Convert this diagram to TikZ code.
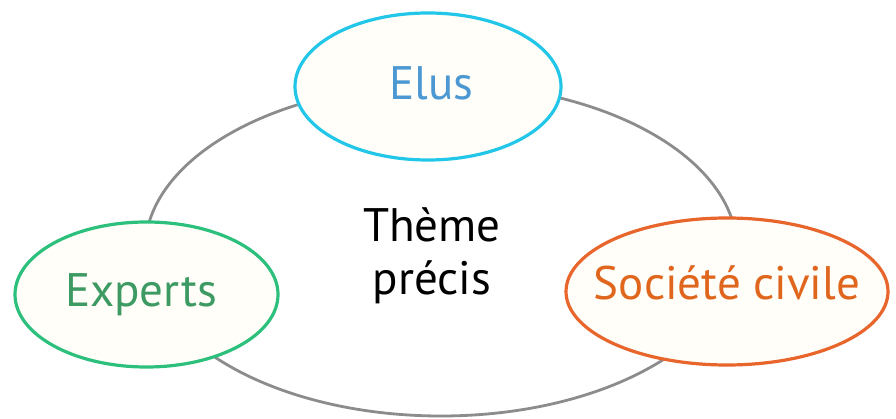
\documentclass[tikz,border=0pt]{standalone}
\usepackage{fontspec}
\setmainfont{PT Sans}
\usetikzlibrary{shapes.geometric}
\definecolor{ringgrey}{HTML}{8C8C8C}
\definecolor{bubblefill}{HTML}{FFFEF8}
\definecolor{eluline}{HTML}{22C6E8}
\definecolor{elutext}{HTML}{4C98D2}
\definecolor{expline}{HTML}{2CC07C}
\definecolor{exptext}{HTML}{3C9A62}
\definecolor{socline}{HTML}{E8652C}
\definecolor{soctext}{HTML}{E0661E}
\tikzset{
  bubble/.style={ellipse, draw, line width=3.2pt, fill=bubblefill, inner sep=0pt},
  ring/.style={ellipse, draw=ringgrey, line width=2.8pt, inner sep=0pt},
  lbl/.style={anchor=base, inner sep=0pt, font=\fontsize{47}{53}\selectfont},
}
\begin{document}
\begin{tikzpicture}[x=1pt,y=-1pt]
\useasboundingbox (0,0) rectangle (896,419);
\node[ring, minimum width=592pt, minimum height=332pt] (ringnode) at (441,250) {};
\node[bubble, draw=eluline, minimum width=266pt, minimum height=147pt] (elus) at (428,86.5) {};
\node[bubble, draw=expline, minimum width=263pt, minimum height=145pt] (experts) at (146.5,294.5) {};
\node[bubble, draw=socline, minimum width=322pt, minimum height=147pt] (societe) at (727,291.5) {};
\node[lbl, text=elutext] (elusT) at (431.5,100) {Elus};
\node[lbl, text=exptext] (expertsT) at (141,307) {Experts};
\node[lbl, text=soctext] (societeT) at (727,300) {Société civile};
\node[lbl, text=black, align=center] (theme) at (432,295) {Thème\\précis};
\end{tikzpicture}
\end{document}
